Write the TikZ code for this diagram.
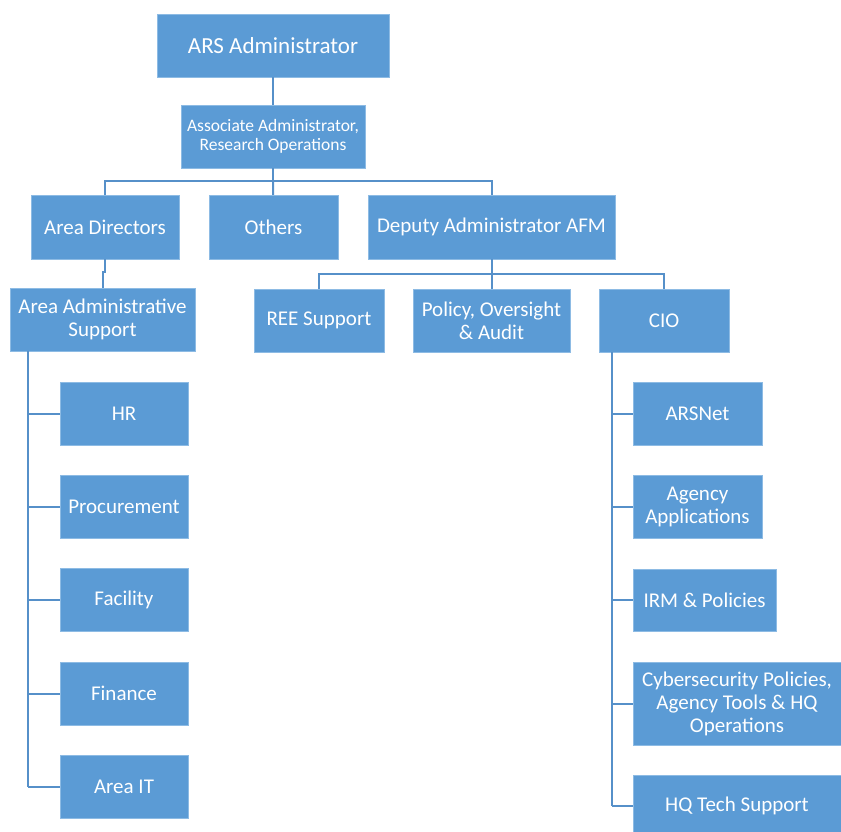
\documentclass[tikz,border=0pt]{standalone}
\usepackage{fontspec}
\setmainfont{Carlito}
\usetikzlibrary{positioning}

\definecolor{boxblue}{HTML}{5B9BD5}
\definecolor{boxedge}{HTML}{8DBBE4}
\definecolor{linkblue}{HTML}{5690C9}

\begin{document}
\begin{tikzpicture}[x=1pt,y=-1pt]
            \tikzstyle{unit} = [rectangle, draw=boxedge, fill=boxblue, text=white, align=center, inner sep=2pt, font=\fontsize{21}{23}\selectfont]
            \tikzstyle{leaf} = [unit, minimum width=128, minimum height=63]
            \tikzstyle{link} = [draw=linkblue, line width=2pt]

            \useasboundingbox (0,0) rectangle (841,832);

            % top of the chart
            \node [unit, minimum width=232, minimum height=63, font=\fontsize{23}{27}\selectfont] (ars) at (273,45.5) {ARS Administrator};
            \node [unit, minimum width=184, minimum height=63, font=\fontsize{17.5}{19}\selectfont] (assoc) at (273,136.5) {Associate Administrator,\\Research Operations};

            \node [unit, minimum width=148, minimum height=64] (areadir) at (105,227) {Area Directors};
            \node [unit, minimum width=129, minimum height=64] (others) at (273.5,227) {Others};
            \node [unit, minimum width=247, minimum height=64] (afm) at (491.5,227) {Deputy Administrator AFM};

            \node [unit, minimum width=185, minimum height=63] (adminsup) at (102.5,319.5) {Area Administrative\\Support};
            \node [unit, minimum width=130, minimum height=63] (ree) at (319,320.5) {REE Support};
            \node [unit, minimum width=157, minimum height=63] (policy) at (491.5,320.5) {Policy, Oversight\\\& Audit};
            \node [unit, minimum width=130, minimum height=63] (cio) at (664,320.5) {CIO};

            % area support offices
            \node [leaf] (hr) at (124,413.5) {HR};
            \node [leaf] (proc) at (124,506.5) {Procurement};
            \node [leaf] (facility) at (124,600) {Facility};
            \node [leaf] (finance) at (124,693.5) {Finance};
            \node [leaf] (areait) at (124,786.5) {Area IT};

            % CIO offices
            \node [leaf, minimum width=129] (arsnet) at (697.5,413.5) {ARSNet};
            \node [leaf, minimum width=129] (apps) at (697.5,506.5) {Agency\\Applications};
            \node [leaf, minimum width=143, minimum height=62] (irm) at (704.5,600) {IRM \& Policies};
            \node [leaf, minimum width=208, minimum height=83] (cyber) at (737,703.5) {Cybersecurity Policies,\\Agency Tools \& HQ\\Operations};
            \node [leaf, minimum width=208, minimum height=62] (hqtech) at (737,806) {HQ Tech Support};

            \coordinate (bus1) at (273,181);
            \coordinate (bus2) at (491.5,274);
            \coordinate (spineL) at (28,351);
            \coordinate (spineR) at (612,352);

            \draw [link] (ars) -- (assoc);
            \draw [link] (assoc) -- (bus1);
            \draw [link] (areadir) |- (bus1) -| (afm);
            \draw [link] (bus1) -- (others);
            \draw [link] (areadir.south) -- ++(0,13) -| (adminsup.north);

            \draw [link] (afm) -- (bus2);
            \draw [link] (ree) |- (bus2) -| (cio);
            \draw [link] (bus2) -- (policy);

            \draw [link] (spineL) -- (spineL |- areait.west);
            \foreach \n in {hr,proc,facility,finance,areait}
                \draw [link] (spineL |- \n.west) -- (\n.west);

            \draw [link] (spineR) -- (spineR |- hqtech.west);
            \foreach \n in {arsnet,apps,irm,cyber,hqtech}
                \draw [link] (spineR |- \n.west) -- (\n.west);
        \end{tikzpicture}
\end{document}
